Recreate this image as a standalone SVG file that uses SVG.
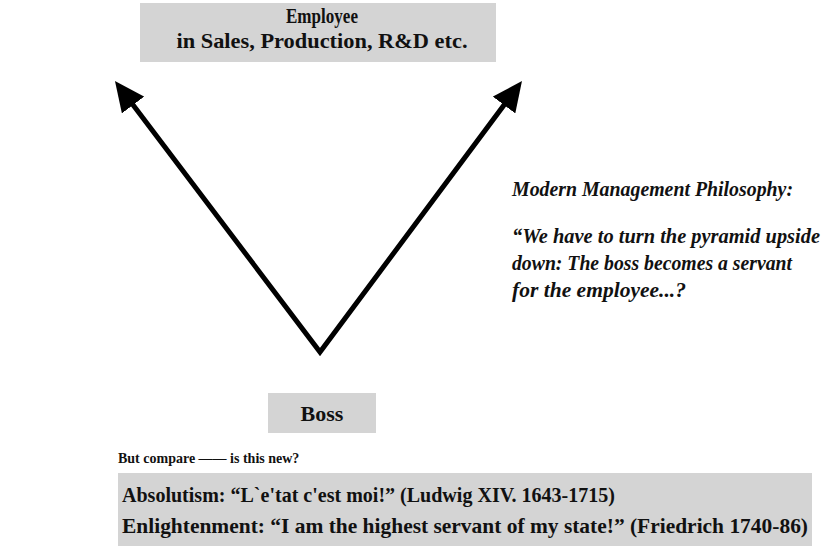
<svg xmlns="http://www.w3.org/2000/svg" width="823" height="553" viewBox="0 0 823 553">
<style>
.box{fill:#d4d4d4}
.b{font-family:"Liberation Serif",serif;font-weight:bold;fill:#111}
.i{font-family:"Liberation Serif",serif;font-weight:bold;font-style:italic;fill:#111;font-size:20.5px}
.arr{stroke:#000;stroke-width:5;fill:none;stroke-linejoin:miter;marker-start:url(#ah);marker-end:url(#ah)}
</style>
<defs>
<marker id="ah" markerUnits="userSpaceOnUse" markerWidth="30" markerHeight="28" refX="20" refY="14" viewBox="0 0 30 28" orient="auto-start-reverse">
<path d="M0,0 L30,14 L0,28 Z" fill="#000"/>
</marker>
</defs>
<g id="employee">
<rect class="box" x="140" y="3" width="356" height="59"/>
<text class="b" x="322" y="23" font-size="20" text-anchor="middle" textLength="72" lengthAdjust="spacingAndGlyphs">Employee</text>
<text class="b" x="322" y="48" font-size="21" text-anchor="middle" textLength="291" lengthAdjust="spacingAndGlyphs">in Sales, Production, R&amp;D etc.</text>
</g>
<g id="boss">
<rect class="box" x="268" y="393" width="108" height="40"/>
<text class="b" x="322" y="421" font-size="22" text-anchor="middle">Boss</text>
</g>
<g id="connectors">
<path class="arr" d="M121,89 L320,352 L516,89"/>
</g>
<g id="philosophy">
<text class="i" x="512" y="196" textLength="281" lengthAdjust="spacingAndGlyphs">Modern Management Philosophy:</text>
<text class="i" x="512" y="243" textLength="308" lengthAdjust="spacingAndGlyphs">“We have to turn the pyramid upside</text>
<text class="i" x="512" y="270" textLength="280" lengthAdjust="spacingAndGlyphs">down:  The boss becomes a servant</text>
<text class="i" x="512" y="297" textLength="174" lengthAdjust="spacingAndGlyphs">for the employee...?</text>
</g>
<g id="compare">
<text class="b" x="118" y="463" font-size="14">But compare —— is this new?</text>
</g>
<g id="history">
<rect class="box" x="118" y="473" width="694" height="73"/>
<text class="b" x="122" y="502" font-size="21" textLength="493" lengthAdjust="spacingAndGlyphs">Absolutism:  “L`e'tat c'est moi!” (Ludwig XIV. 1643-1715)</text>
<text class="b" x="122" y="533" font-size="21" textLength="686" lengthAdjust="spacingAndGlyphs">Enlightenment: “I am the highest servant of my state!” (Friedrich 1740-86)</text>
</g>
</svg>
